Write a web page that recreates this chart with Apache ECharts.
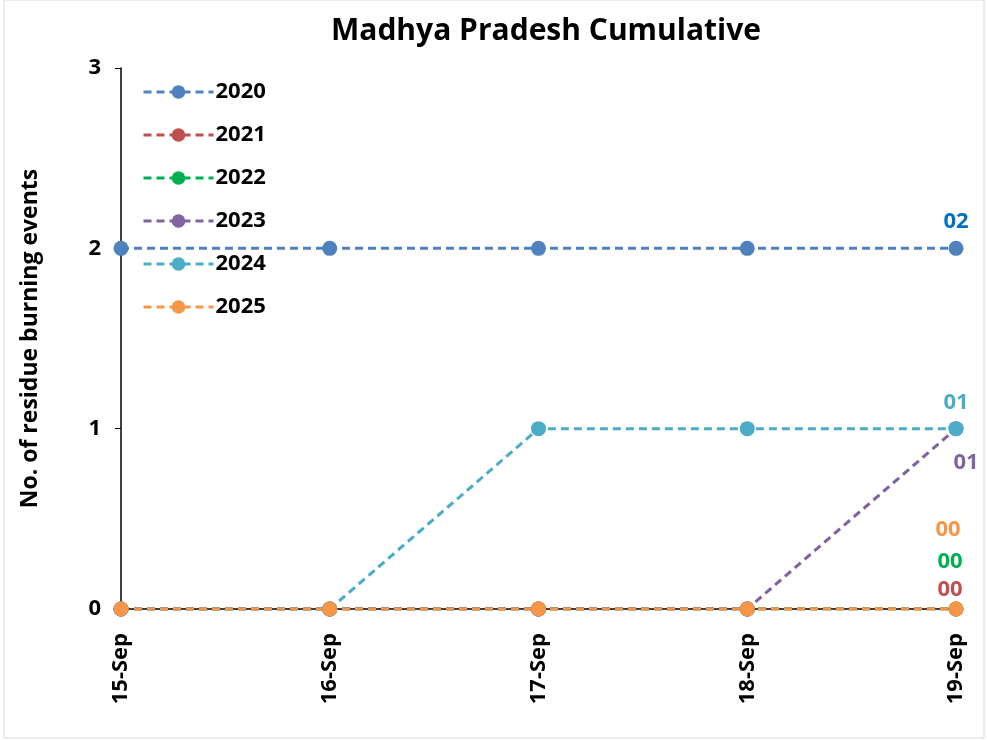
<!DOCTYPE html>
<html><head><meta charset="utf-8">
<script src="https://cdn.jsdelivr.net/npm/echarts@6/dist/echarts.min.js"></script>
<style>html,body{margin:0;padding:0;background:#fff}#c{width:987px;height:740px}</style>
</head><body><div id="c"></div>
<script>
const categories = ['15-Sep','16-Sep','17-Sep','18-Sep','19-Sep'];
const years = ['2020','2021','2022','2023','2024','2025'];
const s2020 = [2,2,2,2,2];
const s2021 = [0,0,0,0,0];
const s2022 = [0,0,0,0,0];
const s2023 = [0,0,0,0,1];
const s2024 = [0,0,1,1,1];
const s2025 = [0,0,0,0,0];
const endLabels = ['02','00','00','01','01','00'];
const yTicks = [0,1,2,3];

const lineColors = ['#4F81BD','#C0504D','#00B050','#8064A2','#4BACC6','#F79646'];
const labelColors = ['#0070C0','#C0504D','#00B050','#8064A2','#4BACC6','#F79646'];
const labelOffsets = [[0,-27],[-6,-19],[-6,-47],[10,34],[0,-26],[-8,-79]];
const allData = [s2020,s2021,s2022,s2023,s2024,s2025];
const FONT = '"Open Sans", "Liberation Sans", sans-serif';

const series = years.map((y,i)=>({
  name: y,
  type: 'line',
  data: allData[i],
  symbol: 'circle',
  symbolSize: 15,
  lineStyle: {color: lineColors[i], width: 3, type: [8,5]},
  itemStyle: {color: lineColors[i]},
  label: {
    show: true,
    position: 'inside',
    offset: labelOffsets[i],
    color: labelColors[i],
    fontFamily: FONT,
    fontWeight: 'bold',
    fontSize: 22,
    formatter: p => p.dataIndex === categories.length-1 ? endLabels[i] : ''
  },
  emphasis: {disabled: true},
  animation: false
}));

const chart = echarts.init(document.getElementById('c'));
chart.setOption({
  backgroundColor: '#fff',
  title: {
    text: 'Madhya Pradesh Cumulative',
    left: 541, top: 11, textAlign: 'center',
    textStyle: {fontFamily: FONT, fontWeight: 'bold', fontSize: 30, color: '#000'}
  },
  legend: {
    orient: 'vertical',
    left: 137, top: 76,
    itemWidth: 70, itemHeight: 17,
    itemGap: 21,
    data: years,
    lineStyle: {width: 3},
    textStyle: {fontFamily: FONT, fontWeight: 'bold', fontSize: 22, color: '#000', padding: [0,0,0,-3]}
  },
  grid: {left: 121, right: 31, top: 68, bottom: 131},
  xAxis: {
    type: 'category',
    data: categories,
    boundaryGap: false,
    axisLine: {lineStyle: {color: '#000', width: 1.5}},
    axisTick: {show: true, alignWithLabel: true, length: 6, lineStyle: {color: '#000'}},
    axisLabel: {rotate: 90, color: '#000', fontFamily: FONT, fontWeight: 'bold', fontSize: 22, margin: 24},
    splitLine: {show: false}
  },
  yAxis: {
    type: 'value',
    min: yTicks[0], max: yTicks[yTicks.length-1], interval: 1,
    name: 'No. of residue burning events',
    nameLocation: 'middle',
    nameGap: 79,
    nameTextStyle: {fontFamily: FONT, fontWeight: 'bold', fontSize: 23, color: '#000'},
    axisLine: {show: true, lineStyle: {color: '#000', width: 1.5}},
    axisTick: {show: true, length: 6, lineStyle: {color: '#000'}},
    axisLabel: {color: '#000', fontFamily: FONT, fontWeight: 'bold', fontSize: 22, margin: 20},
    splitLine: {show: false}
  },
  graphic: [{type: 'rect', shape: {x: 4, y: 0, width: 980, height: 738}, style: {fill: 'none', stroke: '#d9d9d9', lineWidth: 1}, silent: true}],
  series: series
});
</script></body></html>
